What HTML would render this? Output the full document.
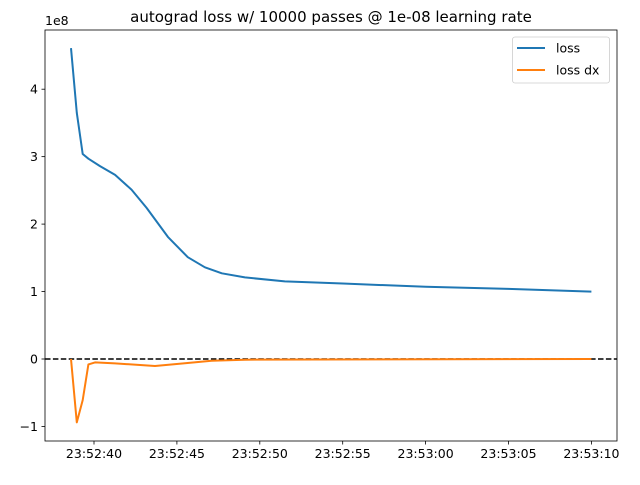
<!DOCTYPE html>
<html><head><meta charset="utf-8"><style>
body{margin:0;background:#fff}
svg{font-family:"DejaVu Sans","Liberation Sans",sans-serif}
</style></head><body>
<svg id="chart" width="640" height="480" xmlns="http://www.w3.org/2000/svg">
<rect width="640" height="480" fill="#fff"/>
<g id="plot"></g>
</svg>
<script>
const lossT=[38.61,38.96,39.32,39.66,40.36,41.27,42.27,43.17,44.46,45.66,46.69,47.71,49.10,51.51,55,60,65,70];
const lossV=[4.61,3.65,3.04,2.97,2.86,2.73,2.51,2.24,1.81,1.51,1.36,1.27,1.21,1.15,1.12,1.07,1.04,1.00];
const dxT=[38.61,38.96,39.32,39.66,40.06,41.27,43.68,45.48,47.09,49.10,70];
const dxV=[0,-0.94,-0.61,-0.08,-0.05,-0.065,-0.104,-0.064,-0.025,-0.01,0];
const xTicks=[40,45,50,55,60,65,70];
const xTickLabels=["23:52:40","23:52:45","23:52:50","23:52:55","23:53:00","23:53:05","23:53:10"];
const yTicks=[-1,0,1,2,3,4];
const yTickLabels=["\u22121","0","1","2","3","4"];

const L=45,R=617,T=30,B=441;
const xs=t=>94+(t-40)*16.58;
const ys=v=>359-v*67.45;
const NS="http://www.w3.org/2000/svg";
const g=document.getElementById('plot');
function mk(tag,attrs,parent){const e=document.createElementNS(NS,tag);for(const k in attrs)e.setAttribute(k,attrs[k]);(parent||g).appendChild(e);return e;}

const z=mk('line',{x1:L,x2:R,y1:ys(0),y2:ys(0),stroke:'#000','stroke-width':1.5,'stroke-dasharray':'5.5,2.4'});



function series(T_,V_,color,name){
  const p=mk('polyline',{points:T_.map((t,i)=>xs(t).toFixed(1)+','+ys(V_[i]).toFixed(1)).join(' '),fill:'none',stroke:color,'stroke-width':2,'stroke-linejoin':'round'});
  
  
}
series(lossT,lossV,'#1f77b4','loss-line');
series(dxT,dxV,'#ff7f0e','loss-dx-line');

const fr=mk('rect',{x:L,y:T,width:R-L,height:B-T,fill:'none',stroke:'#000','stroke-width':0.8});



xTicks.forEach((t,i)=>{
  const x=xs(t);
  mk('line',{x1:x,x2:x,y1:B,y2:B+3.5,stroke:'#000','stroke-width':0.8});
  const tx=mk('text',{x:x,y:B+17,'text-anchor':'middle','font-size':'12.5px',fill:'#000'});
  tx.textContent=xTickLabels[i];
  
  
});
yTicks.forEach((v,i)=>{
  const y=ys(v);
  mk('line',{x1:L-3.5,x2:L,y1:y,y2:y,stroke:'#000','stroke-width':0.8});
  const tx=mk('text',{x:L-7,y:y+4.5,'text-anchor':'end','font-size':'12.5px',fill:'#000'});
  tx.textContent=yTickLabels[i];
  
  
});
const off=mk('text',{x:L,y:T-5,'font-size':'12.5px',fill:'#000'});
off.textContent='1e8';



const title=mk('text',{x:(L+R)/2,y:22,'text-anchor':'middle','font-size':'15px',fill:'#000'});
title.textContent='autograd loss w/ 10000 passes @ 1e-08 learning rate';



const lg=mk('g',{});


mk('rect',{x:512.5,y:37,width:97,height:46,rx:2.5,fill:'#fff',stroke:'#ccc','stroke-width':0.8},lg);
[['loss','#1f77b4',48],['loss dx','#ff7f0e',70]].forEach(([n,c,y])=>{
  mk('line',{x1:517,x2:545,y1:y,y2:y,stroke:c,'stroke-width':2},lg);
  const t=mk('text',{x:556,y:y+4.5,'font-size':'12.5px',fill:'#000'},lg);
  t.textContent=n;
  
  
});
</script>
</body></html>
